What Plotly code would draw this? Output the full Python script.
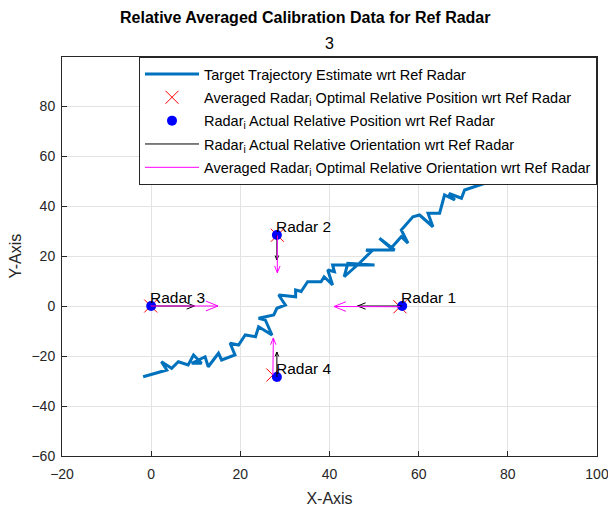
import numpy as np
import plotly.graph_objects as go

# ---- data ----
traj_x = [-1.8, 3.5, 2.3, 4.6, 6.1, 8.3, 9.5, 11.3, 9.1, 12.1, 12.8, 15.1, 15.8, 18.8, 17.7,
          19.6, 21.1, 23.4, 24.1, 27.1, 25.6, 24.1, 27.5, 28.2, 30.1, 28.6, 32.4, 32.4, 33.9,
          33.6, 35.1, 38.1, 38.8, 40.7, 39.6, 41.1, 40.7, 50.1, 44.1, 43.3, 46.7, 49.3, 48.2,
          54.6, 51.2, 53.8, 56.1, 57.6, 56.1, 58.7, 60.2, 63.2, 62.1, 64.7, 65.8, 68.1, 66.8,
          69.6, 70.3, 72.6, 78.0, 84.0]
traj_y = [-28.3, -25.6, -22.3, -24.9, -22.3, -23.6, -19.6, -22.9, -22.9, -20.3, -24.3, -18.9,
          -21.6, -19.6, -14.9, -15.6, -11.6, -12.3, -8.3, -11.6, -5.6, -4.9, -3.6, -0.9, 0.4,
          4.4, 3.7, 6.4, 5.7, 5.7, 9.7, 9.7, 11.7, 8.4, 14.4, 13.7, 16.4, 16.4, 17.1, 11.7, 17.1,
          21.7, 22.4, 22.4, 27.1, 23.1, 27.7, 25.1, 30.4, 35.7, 36.4, 31.7, 37.1, 37.1, 44.4,
          42.4, 45.0, 43.1, 46.4, 47.7, 51.0, 57.0]

radar_names = ["Radar 1", "Radar 2", "Radar 3", "Radar 4"]
actual_x = [56.3, 28.2, 0.0, 28.2]
actual_y = [0.0, 28.4, 0.0, -28.4]
opt_x = [55.8, 28.3, -0.1, 27.3]
opt_y = [-0.3, 28.3, 0.0, -27.6]
actual_u = [-10.0, 0.0, 9.7, 0.0]
actual_v = [0.0, -10.0, 0.0, 10.0]
opt_u = [-14.8, 0.0, 15.1, 0.1]
opt_v = [0.1, -15.0, 0.0, 14.8]

# ---- geometry of plot ----
W, H = 608, 513
ML, MR, MT, MB = 62, 11, 57, 57
XR = [-20, 100]
YR = [-60, 99.6]
sx = (W - ML - MR) / (XR[1] - XR[0])
sy = (H - MT - MB) / (YR[1] - YR[0])

FONT = "Liberation Sans, Arial, sans-serif"
fig = go.Figure()


def quiver(xs, ys, us, vs, color, name, width):
    lx, ly, hx, hy = [], [], [], []
    for x, y, u, v in zip(xs, ys, us, vs):
        tx, ty = x + u, y + v
        lx += [x, tx, None]
        ly += [y, ty, None]
        px, py = u * sx, v * sy
        L = np.hypot(px, py)
        ux, uy = px / L, py / L
        hl = 0.18 * L
        hw = 0.4 * hl
        for s in (1, -1):
            bx = -ux * hl + s * (-uy) * hw
            by = -uy * hl + s * ux * hw
            hx += [tx, tx + bx / sx, None]
            hy += [ty, ty + by / sy, None]
    fig.add_trace(go.Scatter(x=lx + hx, y=ly + hy, mode="lines", name=name,
                             line=dict(color=color, width=width), legendgroup=name))


fig.add_trace(go.Scatter(x=traj_x, y=traj_y, mode="lines",
                         name="Target Trajectory Estimate wrt Ref Radar",
                         line=dict(color="#0072BD", width=3), legendgroup="a"))
fig.add_trace(go.Scatter(x=opt_x, y=opt_y, mode="markers",
                         name="Averaged Radar<sub>i</sub> Optimal Relative Position wrt Ref Radar",
                         marker=dict(symbol="x-thin-open", size=13, color="#ff0000",
                                     line=dict(color="#ff0000", width=1)), legendgroup="b"))
fig.add_trace(go.Scatter(x=actual_x, y=actual_y, mode="markers",
                         name="Radar<sub>i</sub> Actual Relative Position wrt Ref Radar",
                         marker=dict(symbol="circle", size=10, color="#0000ff"), legendgroup="c"))
quiver(actual_x, actual_y, actual_u, actual_v, "#000000",
       "Radar<sub>i</sub> Actual Relative Orientation wrt Ref Radar", 1)
quiver(opt_x, opt_y, opt_u, opt_v, "#ff00ff",
       "Averaged Radar<sub>i</sub> Optimal Relative Orientation wrt Ref Radar", 1)

for n, x, y in zip(radar_names, actual_x, actual_y):
    fig.add_annotation(x=x, y=y, text=n, showarrow=False, xanchor="left", yanchor="middle",
                       xshift=-3, yshift=9, font=dict(family=FONT, size=15.5, color="#000000"))

fig.add_annotation(xref="paper", yref="paper", x=(304.5 - ML) / (W - ML - MR), y=1, yshift=40,
                   text="<b>Relative Averaged Calibration Data for Ref Radar</b>",
                   showarrow=False, xanchor="center", yanchor="middle",
                   font=dict(family=FONT, size=16, color="#000000"))
fig.add_annotation(xref="paper", yref="paper", x=0.5, y=1, yshift=14, text="3",
                   showarrow=False, xanchor="center", yanchor="middle",
                   font=dict(family=FONT, size=16, color="#000000"))
fig.add_annotation(xref="paper", yref="paper", x=0, y=0.5, xshift=-(ML - 15), text="Y-Axis",
                   textangle=-90, showarrow=False, xanchor="center", yanchor="middle",
                   font=dict(family=FONT, size=16, color="#262626"))

axis_common = dict(showgrid=True, gridcolor="#e3e3e3", gridwidth=1, zeroline=False,
                   showline=True, linecolor="#262626", linewidth=1, mirror=True,
                   ticks="inside", ticklen=5, tickcolor="#262626",
                   ticklabeloverflow="allow", automargin=False,
                   tickfont=dict(family=FONT, size=14, color="#262626"))
fig.update_xaxes(range=XR, dtick=20, tick0=0, ticklabelstandoff=5,
                 title=dict(text="X-Axis", font=dict(family=FONT, size=16, color="#262626"), standoff=12),
                 **axis_common)
fig.update_yaxes(range=YR, dtick=20, tick0=0, ticklabelstandoff=3, **axis_common)

fig.update_layout(
    width=W, height=H, margin=dict(l=ML, r=MR, t=MT, b=MB, autoexpand=False),
    paper_bgcolor="white", plot_bgcolor="white",
    legend=dict(x=1, y=1, xanchor="right", yanchor="top", bgcolor="white",
                bordercolor="#262626", borderwidth=1, traceorder="grouped",
                tracegroupgap=1.5, itemwidth=54,
                font=dict(family=FONT, size=14.5, color="#000000")),
)

fig.write_html("out.html")
